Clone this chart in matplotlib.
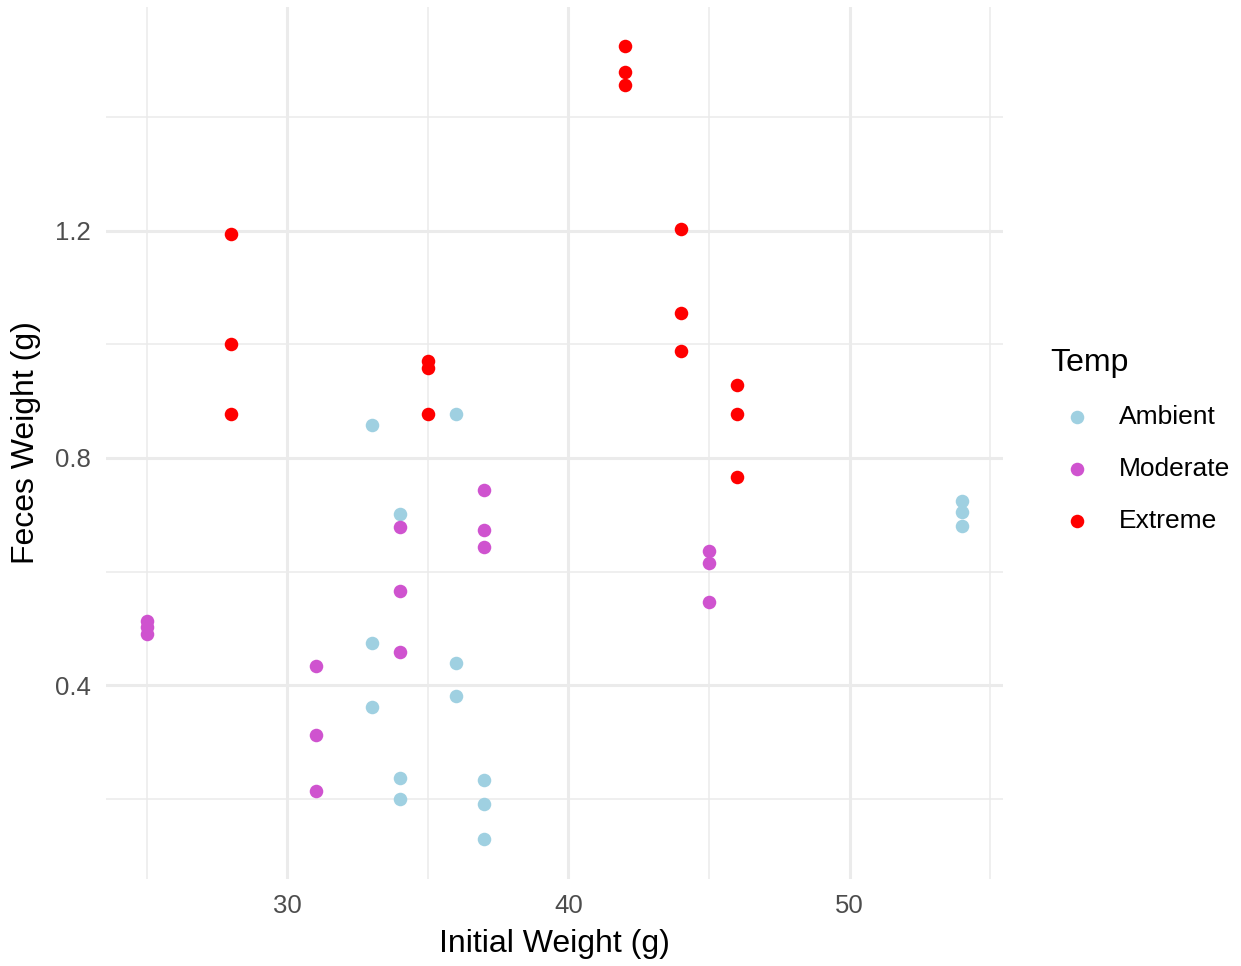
import matplotlib.pyplot as plt
from matplotlib.ticker import MultipleLocator

plt.rcParams['font.family'] = ['Liberation Sans', 'DejaVu Sans']

# Ambient
amb_x = [33, 33, 33, 34, 34, 34, 36, 36, 36, 37, 37, 37, 54, 54, 54]
amb_y = [0.859, 0.474, 0.361, 0.702, 0.237, 0.200, 0.878, 0.439, 0.381,
         0.233, 0.191, 0.129, 0.725, 0.704, 0.681]

# Moderate
mod_x = [25, 25, 25, 31, 31, 31, 34, 34, 34, 37, 37, 37, 45, 45, 45]
mod_y = [0.513, 0.502, 0.490, 0.433, 0.312, 0.214, 0.678, 0.565, 0.458,
         0.743, 0.674, 0.644, 0.636, 0.615, 0.546]

# Extreme
ext_x = [28, 28, 28, 35, 35, 35, 42, 42, 42, 44, 44, 44, 46, 46, 46]
ext_y = [1.195, 1.000, 0.878, 0.971, 0.959, 0.878, 1.525, 1.480, 1.457,
         1.204, 1.056, 0.989, 0.929, 0.878, 0.767]

groups = ['Ambient', 'Moderate', 'Extreme']
colors = ['#9FD0E1', '#CF53CF', '#FF0000']

fig = plt.figure(figsize=(12.41, 9.66), dpi=100)
ax = fig.add_axes([0.0855, 0.0905, 0.7225, 0.9025])

for name, xs, ys, c in zip(groups, [amb_x, mod_x, ext_x], [amb_y, mod_y, ext_y], colors):
    ax.scatter(xs, ys, s=95, color=c, label=name, linewidths=0, zorder=3)

ax.xaxis.set_major_locator(MultipleLocator(10))
ax.xaxis.set_minor_locator(MultipleLocator(5))
ax.yaxis.set_major_locator(MultipleLocator(0.4))
ax.yaxis.set_minor_locator(MultipleLocator(0.2))
ax.set_xlim(23.55, 55.45)
ax.set_ylim(0.059, 1.595)

ax.grid(which='major', color='#EBEBEB', linewidth=2.2)
ax.grid(which='minor', color='#EBEBEB', linewidth=1.1)
ax.set_axisbelow(True)
for s in ax.spines.values():
    s.set_visible(False)
ax.tick_params(which='both', length=0, labelsize=18.5, labelcolor='#4D4D4D', pad=11)
ax.set_yticks([0.4, 0.8, 1.2])
ax.set_yticklabels(['0.4', '0.8', '1.2'])

ax.set_xlabel('Initial Weight (g)', fontsize=23, labelpad=8)
ax.set_ylabel('Feces Weight (g)', fontsize=23, labelpad=10)

leg = fig.legend(loc='upper left', bbox_to_anchor=(0.838, 0.651), frameon=False,
                 fontsize=19, title='Temp', title_fontsize=23,
                 handletextpad=0.6, labelspacing=1.05, markerscale=1.0,
                 borderaxespad=0, handlelength=2.0)
leg._legend_box.align = 'left'

fig.savefig('out.png', dpi=100)
